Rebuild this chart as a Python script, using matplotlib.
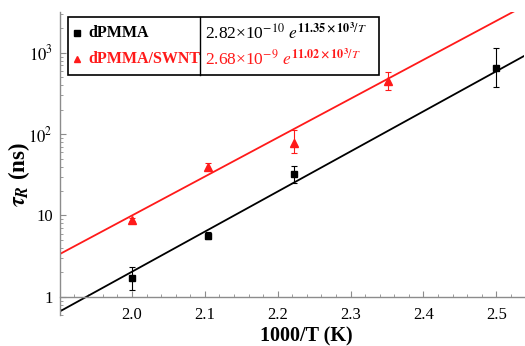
import matplotlib.pyplot as plt
import numpy as np
from matplotlib.patches import Rectangle
from matplotlib.ticker import FixedLocator, FixedFormatter, MultipleLocator, LogLocator, NullFormatter

plt.rcParams["font.family"] = ["Liberation Serif", "DejaVu Serif"]
plt.rcParams["mathtext.fontset"] = "stix"

# 数据：1000/T 与弛豫时间 (ns)
x_pmma = [2.0, 2.105, 2.222, 2.5]
tau_pmma = [1.7, 5.6, 32.0, 660.0]
lo_pmma = [1.2, 5.2, 25.0, 375.0]
hi_pmma = [2.3, 6.2, 41.0, 1150.0]

x_swnt = [2.0, 2.105, 2.222, 2.351]
tau_swnt = [8.8, 39.0, 78.0, 445.0]
lo_swnt = [8.5, 36.0, 59.0, 350.0]
hi_swnt = [9.2, 44.0, 112.0, 580.0]

# 拟合参数：tau = A * exp(E * 1000/T)
fit_pmma = (2.82e-10, 11.35)
fit_swnt = (2.68e-9, 11.02)

RED = "#ff1a1a"

fig = plt.figure(figsize=(5.25, 3.46), dpi=100)
ax = fig.add_axes([0.114, 0.09, 0.884, 0.876])
ax.set_yscale("log")
ax.set_xlim(1.901, 2.538)
ax.set_ylim(0.60, 3200)

xs = np.linspace(1.901, 2.538, 200)
ax.plot(xs, fit_pmma[0] * np.exp(fit_pmma[1] * xs), color="black", lw=1.3, zorder=2)
ax.plot(xs, fit_swnt[0] * np.exp(fit_swnt[1] * xs), color=RED, lw=1.3, zorder=2)

def draw_points(x, y, lo, hi, color, marker, ms):
    y = np.array(y)
    err = [y - np.array(lo), np.array(hi) - y]
    ax.errorbar(x, y, yerr=err, fmt=marker, color=color, ms=ms, ecolor=color,
                elinewidth=0.8, capsize=2, capthick=0.8, zorder=3)

draw_points(x_pmma, tau_pmma, lo_pmma, hi_pmma, "black", "s", 5)
draw_points(x_swnt, tau_swnt, lo_swnt, hi_swnt, RED, "^", 5.5)

# 坐标轴样式（Mathematica 风格）
for side in ["top", "right"]:
    ax.spines[side].set_visible(False)
ax.spines["bottom"].set_position(("data", 1))
for side in ["left", "bottom"]:
    ax.spines[side].set_color("#8c8c8c")
    ax.spines[side].set_linewidth(1.0)

ax.xaxis.set_minor_locator(MultipleLocator(0.02))
ax.set_xticks([2.0, 2.1, 2.2, 2.3, 2.4, 2.5])
ax.set_xticklabels(["2.0", "2.1", "2.2", "2.3", "2.4", "2.5"])
ax.yaxis.set_major_locator(FixedLocator([1, 10, 100, 1000]))
ax.yaxis.set_major_formatter(FixedFormatter(["1", "10", "$10^2$", "$10^3$"]))
ax.yaxis.set_minor_locator(LogLocator(base=10, subs=np.arange(2, 10)))
ax.yaxis.set_minor_formatter(NullFormatter())
ax.tick_params(which="major", direction="in", length=4, width=0.8, color="#8c8c8c",
               labelsize=12, pad=5)
ax.tick_params(which="minor", direction="in", length=2, width=0.6, color="#8c8c8c")
ax.tick_params(axis="x", which="major", pad=7)

ax.set_xlabel("1000/T (K)", fontsize=14.5, fontweight="bold")
ax.xaxis.set_label_coords(0.531, -0.040)
ax.set_ylabel(r"$\boldsymbol{\tau}_{\boldsymbol{R}}$ (ns)", fontsize=16.5, fontweight="bold")
ax.yaxis.set_label_coords(-0.060, 0.462)

# 图例表格
ax.add_patch(Rectangle((0.017, 0.792), 0.671, 0.191, transform=ax.transAxes,
                       fill=False, edgecolor="black", lw=1.2, zorder=5))
ax.plot([0.303, 0.303], [0.792, 0.983], transform=ax.transAxes, color="black", lw=1.0, zorder=5)
ax.plot([0.037], [0.931], "s", color="black", ms=4, transform=ax.transAxes, zorder=5)
ax.plot([0.037], [0.845], "^", color=RED, ms=4, transform=ax.transAxes, zorder=5)
ax.text(0.062, 0.931, "dPMMA", transform=ax.transAxes, fontsize=11.5, fontweight="bold",
        va="center", ha="left", color="black")
ax.text(0.062, 0.845, "dPMMA/SWNT", transform=ax.transAxes, fontsize=11.5, fontweight="bold",
        va="center", ha="left", color=RED)
ax.text(0.312, 0.931, r"2.82×10$^{\mathrm{-10}}$ $e^{\mathbf{11.35\times10^3}/T}$", transform=ax.transAxes,
        fontsize=12.5, va="center", ha="left", color="black")
ax.text(0.312, 0.845, r"2.68×10$^{\mathrm{-9}}$ $e^{\mathbf{11.02\times10^3}/T}$", transform=ax.transAxes,
        fontsize=12.5, va="center", ha="left", color=RED)

plt.savefig("out.png", dpi=100)
plt.close()
